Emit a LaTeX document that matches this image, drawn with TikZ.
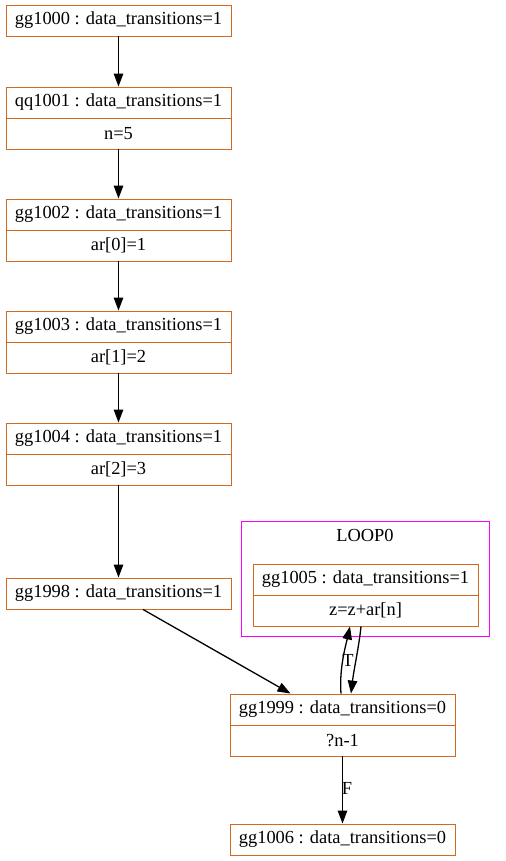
\documentclass[tikz,border=0pt]{standalone}
\usepackage{fontspec}
\setmainfont{Liberation Serif}
\usetikzlibrary{arrows.meta}
\definecolor{boxc}{HTML}{D2691E}
\definecolor{clc}{HTML}{FF00FF}
\begin{document}
\begin{tikzpicture}[x=1bp,y=-1bp,
  box/.style={draw=boxc, line width=0.9bp, minimum width=225bp, minimum height=31bp, inner sep=0pt, font=\fontsize{18.4bp}{20bp}\selectfont},
  edge/.style={draw=black, line width=1.3bp, -{Triangle[length=13bp,width=9.5bp]}},
  lbl/.style={font=\fontsize{18.4bp}{20bp}\selectfont, inner sep=0pt}]
\useasboundingbox (0,0) rectangle (506,861);
% cluster
\node[draw=clc, line width=1bp, minimum width=248bp, minimum height=115bp, inner sep=0pt] (loop) at (365,578.5) {};
\node[lbl] (looplbl) at (365,535) {LOOP0};
% nodes
\node[box] (g1000) at (118.5,20.5) {gg1000 : data\_transitions=1};
\node[box] (q1001) at (118.5,102.5) {qq1001 : data\_transitions=1};
\node[box] (q1001b) at (118.5,133.5) {n=5};
\node[box] (g1002) at (118.5,214.5) {gg1002 : data\_transitions=1};
\node[box] (g1002b) at (118.5,245.5) {ar[0]=1};
\node[box] (g1003) at (118.5,326.5) {gg1003 : data\_transitions=1};
\node[box] (g1003b) at (118.5,357.5) {ar[1]=2};
\node[box] (g1004) at (118.5,438.5) {gg1004 : data\_transitions=1};
\node[box] (g1004b) at (118.5,469.5) {ar[2]=3};
\node[box] (g1998) at (118.5,593.5) {gg1998 : data\_transitions=1};
\node[box] (g1005) at (365.5,579.5) {gg1005 : data\_transitions=1};
\node[box] (g1005b) at (365.5,610.5) {z=z+ar[n]};
\node[box] (g1999) at (342.5,709.5) {gg1999 : data\_transitions=0};
\node[box] (g1999b) at (342.5,740.5) {?n-1};
\node[box] (g1006) at (342.5,839.5) {gg1006 : data\_transitions=0};
% edges
\draw[edge] (g1000) -- (q1001);
\draw[edge] (q1001b) -- (g1002);
\draw[edge] (g1002b) -- (g1003);
\draw[edge] (g1003b) -- (g1004);
\draw[edge] (g1004b) -- (g1998);
\draw[edge] ([xshift=24.5bp]g1998.south) -- ([xshift=-52bp]g1999.north);
\draw[edge] ([xshift=-1.5bp]g1999.north) .. controls +(-2,-25) and +(-4,18) .. ([xshift=-15.5bp]g1005b.south);
\node[lbl] (tlbl) at (348,660) {T};
\draw[edge] ([xshift=-4.5bp]g1005b.south) .. controls +(-2,20) and +(3,-25) .. ([xshift=8.5bp]g1999.north);
\draw[edge] (g1999b) -- (g1006);
\node[lbl] (flbl) at (347,788) {F};
\end{tikzpicture}
\end{document}
